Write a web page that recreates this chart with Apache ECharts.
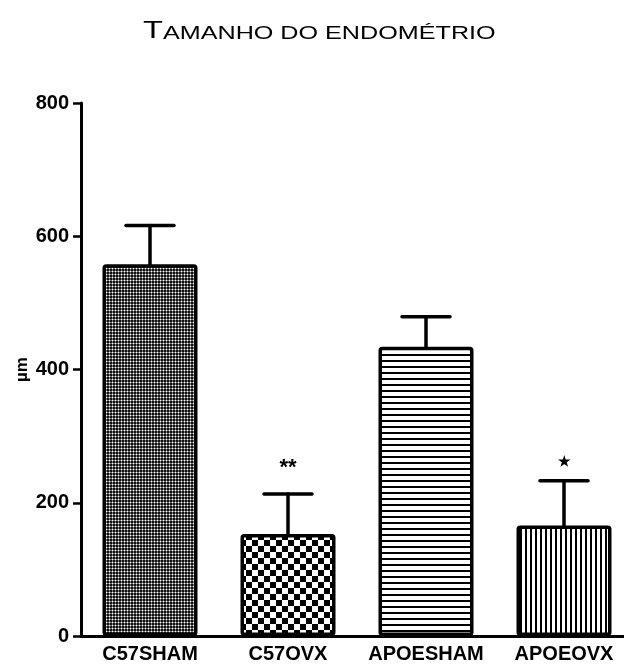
<!DOCTYPE html>
<html><head><meta charset="utf-8">
<script src="https://cdn.jsdelivr.net/npm/echarts@6/dist/echarts.min.js"></script>
<style>html,body{margin:0;padding:0;background:#fff}#c{width:624px;height:666px}</style>
</head><body><div id="c"></div>
<script>
// ---- data ----
const categories = ['C57SHAM', 'C57OVX', 'APOESHAM', 'APOEOVX'];
const means = [558, 153, 434, 166];
const errorTops = [616, 213, 479, 233];
const annotLabels = ['', '**', '', '★'];
const annotValues = [null, 252, null, 261];
const yTicks = [0, 200, 400, 600, 800];
const titleFirst = 'T';
const titleRest = 'AMANHO DO ENDOMÉTRIO';
const yName = 'µm';

// ---- pattern tiles ----
function tile(w, h, draw) {
  const c = document.createElement('canvas');
  c.width = w; c.height = h;
  const g = c.getContext('2d');
  draw(g, w, h);
  return c;
}
const patFine = tile(3, 3, (g) => {
  g.fillStyle = '#111'; g.fillRect(0, 0, 3, 3);
  g.fillStyle = '#777';
  g.fillRect(0, 1, 1, 1); g.fillRect(2, 1, 1, 1); g.fillRect(1, 0, 1, 1); g.fillRect(1, 2, 1, 1);
  g.fillStyle = '#fff'; g.fillRect(1, 1, 1, 1);
});
const patChecker = tile(12, 12, (g) => {
  g.fillStyle = '#fff'; g.fillRect(0, 0, 12, 12);
  g.fillStyle = '#000'; g.fillRect(0, 0, 6, 6); g.fillRect(6, 6, 6, 6);
});
const patHoriz = tile(6, 6, (g) => {
  g.fillStyle = '#fff'; g.fillRect(0, 0, 6, 6);
  g.fillStyle = '#000'; g.fillRect(0, 0, 6, 2);
});
const patVert = tile(5, 5, (g) => {
  g.fillStyle = '#fff'; g.fillRect(0, 0, 5, 5);
  g.fillStyle = '#000'; g.fillRect(0, 0, 2, 5);
});
const patterns = [patFine, patChecker, patHoriz, patVert];

const chart = echarts.init(document.getElementById('c'), null, {renderer: 'canvas'});
const FONT = 'Liberation Sans, Arial, sans-serif';

chart.setOption({
  animation: false,
  backgroundColor: '#fff',
  graphic: [{
    type: 'text', x: 143, y: 16, scaleX: 1.36,
    style: {
      text: '{a|' + titleFirst + '}{b|' + titleRest + '}',
      rich: {
        a: {fontSize: 24, fontFamily: FONT, fill: '#000', verticalAlign: 'bottom', lineHeight: 27},
        b: {fontSize: 18.5, fontFamily: FONT, fill: '#000', verticalAlign: 'bottom', lineHeight: 27}
      }
    }
  }],
  grid: {left: 81, top: 103, width: 552, height: 533, containLabel: false, outerBoundsMode: 'none'},
  xAxis: {
    type: 'category', data: categories,
    axisLine: {lineStyle: {color: '#000', width: 3}},
    axisTick: {alignWithLabel: true, length: 8, lineStyle: {color: '#000', width: 2.5}},
    axisLabel: {interval: 0, color: '#000', fontFamily: FONT, fontWeight: 'bold', fontSize: 20, margin: 8}
  },
  yAxis: {
    type: 'value', min: 0, max: 800, interval: 200,
    name: yName, nameLocation: 'middle', nameGap: 50, nameRotate: 90, nameMoveOverlap: false,
    nameTextStyle: {color: '#000', fontFamily: FONT, fontWeight: 'bold', fontSize: 17},
    axisLine: {show: true, lineStyle: {color: '#000', width: 3}},
    axisTick: {show: true, length: 8, lineStyle: {color: '#000', width: 2.5}},
    splitLine: {show: false},
    axisLabel: {color: '#000', fontFamily: FONT, fontWeight: 'bold', fontSize: 20, margin: 12,
      formatter: (v) => yTicks.indexOf(v) >= 0 ? String(v) : ''}
  },
  series: [
    {
      type: 'bar', barWidth: 95,
      data: means.map((v, i) => ({
        value: v,
        itemStyle: {color: {image: patterns[i], repeat: 'repeat'}, borderColor: '#000', borderWidth: 3.5, borderRadius: 2}
      })),
      z: 2
    },
    {
      type: 'custom', z: 3,
      data: means.map((m, i) => [i, m, errorTops[i]]),
      renderItem: (params, api) => {
        const x = api.coord([api.value(0), api.value(1)]);
        const t = api.coord([api.value(0), api.value(2)]);
        const half = 24;
        const st = {stroke: '#000', lineWidth: 3.5, lineCap: 'round'};
        return {type: 'group', children: [
          {type: 'line', shape: {x1: x[0], y1: x[1], x2: t[0], y2: t[1]}, style: st},
          {type: 'line', shape: {x1: t[0] - half, y1: t[1], x2: t[0] + half, y2: t[1]}, style: st}
        ]};
      }
    },
    {
      type: 'custom', z: 4,
      data: annotValues.map((v, i) => [i, v == null ? 0 : v, i]),
      renderItem: (params, api) => {
        const i = api.value(2);
        if (annotValues[i] == null) return null;
        const p = api.coord([api.value(0), api.value(1)]);
        const big = annotLabels[i] === '**';
        return {type: 'text', x: p[0], y: p[1], style: {
          text: annotLabels[i], fill: '#000', align: 'center', verticalAlign: 'middle',
          font: 'bold ' + (big ? 22 : 14) + 'px ' + FONT
        }};
      }
    }
  ]
});
</script></body></html>
